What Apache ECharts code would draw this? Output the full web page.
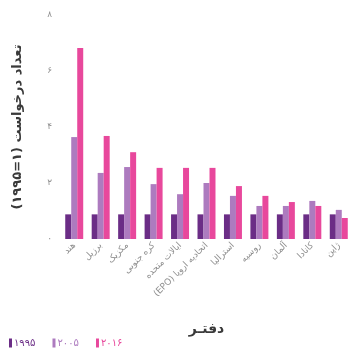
<!DOCTYPE html>
<html>
<head>
<meta charset="utf-8">
<script src="https://cdn.jsdelivr.net/npm/echarts@6/dist/echarts.min.js"></script>
<style>
  html, body { margin: 0; padding: 0; background: #fff; }
  #chart { width: 352px; height: 354px; }
</style>
</head>
<body>
<div id="chart"></div>
<script>
// دفاتر
const categories = ['هند', 'برزیل', 'مکزیک', 'کره جنوبی', 'ایالات متحده', 'اتحادیه اروپا (EPO)', 'استرالیا', 'روسیه', 'آلمان', 'کانادا', 'ژاپن'];
const y1995 = [0.88, 0.88, 0.88, 0.88, 0.88, 0.88, 0.88, 0.88, 0.88, 0.88, 0.88];
const y2005 = [3.64, 2.36, 2.57, 1.96, 1.6, 2.0, 1.54, 1.18, 1.18, 1.36, 1.04];
const y2016 = [6.82, 3.68, 3.1, 2.54, 2.54, 2.54, 1.89, 1.54, 1.32, 1.18, 0.75];
const seriesNames = ['۱۹۹۵', '۲۰۰۵', '۲۰۱۶'];
const colors = ['#6b2d86', '#ad7bbf', '#e8489c'];

const faDigits = '۰۱۲۳۴۵۶۷۸۹';
const toFa = v => String(v).replace(/\d/g, d => faDigits[d]);
// متن راست به چپ روی canvas
const rtl = s => '\u202B' + s + '\u202C';

const font = 'DejaVu Sans';
const myChart = echarts.init(document.getElementById('chart'));

const option = {
    animation: false,
    color: colors,
    textStyle: { fontFamily: font },
    legend: {
        left: 4,
        bottom: 1,
        itemWidth: 3,
        itemHeight: 9,
        itemGap: 17,
        icon: 'rect',
        data: seriesNames.map((n, i) => ({ name: n, textStyle: { color: colors[i] } })),
        textStyle: { fontSize: 10, fontFamily: font, padding: [0, 0, 0, -3] }
    },
    grid: {
        left: 61,
        right: -2,
        top: 15,
        bottom: 115,
        containLabel: false
    },
    xAxis: {
        type: 'category',
        data: categories,
        axisLine: { show: false },
        axisTick: { show: false },
        axisLabel: {
            rotate: 45,
            interval: 0,
            fontSize: 9,
            color: '#909090',
            margin: 5,
            fontFamily: font,
            formatter: v => rtl(v)
        },
        name: 'دفتـر',
        nameLocation: 'middle',
        nameGap: 83,
        nameTextStyle: { fontSize: 14, fontWeight: 'bold', color: '#3a3a3a', fontFamily: font }
    },
    yAxis: {
        type: 'value',
        min: 0,
        max: 8,
        interval: 2,
        axisLine: { show: false },
        axisTick: { show: false },
        splitLine: { show: false },
        axisLabel: {
            color: '#909090',
            fontSize: 9,
            margin: 9,
            formatter: v => v === 0 ? '٠' : toFa(v)
        },
        name: rtl('تعداد درخواست (۱=۱۹۹۵)'),
        nameLocation: 'middle',
        nameGap: 37,
        nameRotate: 90,
        nameTextStyle: { fontSize: 13, fontWeight: 'bold', color: '#3a3a3a', fontFamily: font }
    },
    series: [y1995, y2005, y2016].map((d, i) => ({
        name: seriesNames[i],
        type: 'bar',
        data: d,
        barGap: 0,
        barCategoryGap: '32%'
    }))
};

myChart.setOption(option);
</script>
</body>
</html>
